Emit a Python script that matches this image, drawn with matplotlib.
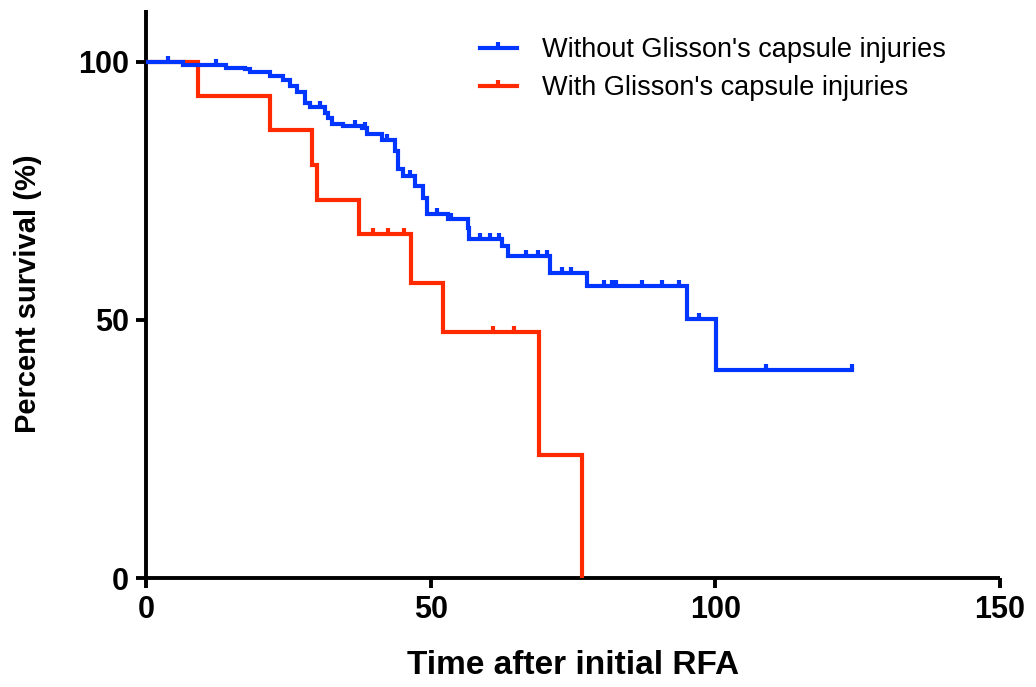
import numpy as np
import matplotlib
matplotlib.use("Agg")
import matplotlib.pyplot as plt
from matplotlib.lines import Line2D
from matplotlib.markers import TICKUP

# ---- data ----
blue_label = "Without Glisson's capsule injuries"
red_label = "With Glisson's capsule injuries"

blue_t = [0, 6.5, 14.0, 17.4, 18.2, 21.8, 24.0, 25.3, 26.5, 27.9, 28.8, 31.4, 31.9,
          32.6, 34.6, 37.9, 38.9, 41.4, 43.7, 44.2, 45.1, 47.2, 48.6, 49.3, 53.0,
          56.5, 56.8, 62.5, 63.5, 70.9, 77.5, 95.1, 100.2]
blue_s = [100, 99.4, 98.8, 98.5, 97.9, 97.3, 96.5, 95.2, 94.2, 91.9, 91.3, 90.0, 89.0,
          88.0, 87.5, 87.1, 85.9, 84.9, 82.6, 79.3, 77.8, 75.9, 73.6, 70.5, 69.5,
          67.8, 65.6, 64.3, 62.4, 59.1, 56.6, 50.2, 40.2]
blue_end = 124.0
blue_cens = [3.9, 12.3, 30.5, 36.7, 38.4, 42.3, 46.3, 51.1, 53.5, 58.6, 60.5, 62.0,
             66.8, 68.8, 70.5, 73.0, 74.7, 80.5, 81.8, 82.6, 87.2, 90.7, 93.7, 97.2,
             108.9, 124.0]

red_t = [0, 9.1, 21.8, 29.1, 30.0, 37.4, 46.5, 52.1, 69.0, 76.5]
red_s = [100, 93.3, 86.7, 80.0, 73.3, 66.7, 57.1, 47.6, 23.8, 0]
red_cens = [39.8, 42.5, 45.4, 61.0, 64.6]

x_ticks = [0, 50, 100, 150]
y_ticks = [0, 50, 100]
x_label = "Time after initial RFA"
y_label = "Percent survival (%)"

BLUE = "#0036ff"
RED = "#ff2a00"

plt.rcParams['font.family'] = ['Liberation Sans', 'DejaVu Sans']

fig = plt.figure(figsize=(10.36, 6.87), dpi=100)
ax = fig.add_axes([146 / 1036, 1 - 578 / 687, (1000 - 146) / 1036, (578 - 10) / 687])


def surv_at(times, surv, t):
    idx = np.searchsorted(times, t, side='right') - 1
    return np.asarray(surv)[idx]


lw = 3.0
cms, cmew = 4.5, 3.0
# red curve
ax.step(red_t, red_s, where='post', color=RED, lw=lw, solid_joinstyle='miter', zorder=3)
ax.plot(red_cens, surv_at(red_t, red_s, red_cens), ls='none', marker=TICKUP,
        ms=cms, mew=cmew, color=RED, zorder=3)
# blue curve
bt = list(blue_t) + [blue_end]
bs = list(blue_s) + [blue_s[-1]]
ax.step(bt, bs, where='post', color=BLUE, lw=lw, solid_joinstyle='miter', zorder=4)
ax.plot(blue_cens, surv_at(blue_t, blue_s, blue_cens), ls='none', marker=TICKUP,
        ms=cms, mew=cmew, color=BLUE, zorder=4)

ax.set_xlim(0, 150)
ax.set_ylim(0, 110)
ax.set_xticks(x_ticks)
ax.set_yticks(y_ticks)
ax.set_xticklabels([str(v) for v in x_ticks], fontsize=22, fontweight='bold')
ax.set_yticklabels([str(v) for v in y_ticks], fontsize=22, fontweight='bold')
ax.tick_params(axis='both', direction='out', length=7.5, width=2.8, pad=5)
for s in ['top', 'right']:
    ax.spines[s].set_visible(False)
for s in ['left', 'bottom']:
    ax.spines[s].set_linewidth(2.8)
    ax.spines[s].set_capstyle('butt')

ax.set_xlabel(x_label, fontsize=24, fontweight='bold', labelpad=18)
ax.set_ylabel(y_label, fontsize=21, fontweight='bold', labelpad=26)

handles = [
    Line2D([0, 0.5, 1], [0, 0, 0], color=BLUE, lw=lw, marker=TICKUP, ms=cms, mew=cmew, markevery=[1]),
    Line2D([0, 0.5, 1], [0, 0, 0], color=RED, lw=lw, marker=TICKUP, ms=cms, mew=cmew, markevery=[1]),
]
leg = ax.legend(handles, [blue_label, red_label], loc='upper left',
                bbox_to_anchor=(0.362, 0.995), frameon=False, fontsize=19.5,
                handlelength=1.4, handletextpad=0.9, labelspacing=0.45)

fig.savefig("out.png", dpi=100)
